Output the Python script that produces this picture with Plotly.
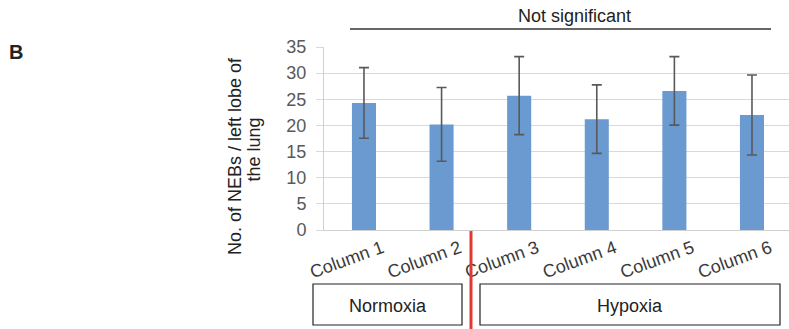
import plotly.graph_objects as go

categories = ["Column 1", "Column 2", "Column 3", "Column 4", "Column 5", "Column 6"]
values = [24.3, 20.2, 25.7, 21.2, 26.6, 22.0]
errors = [6.75, 7.05, 7.45, 6.55, 6.55, 7.65]
y_ticks = [0, 5, 10, 15, 20, 25, 30, 35]
group_labels = ["Normoxia", "Hypoxia"]
significance_label = "Not significant"
y_title_lines = ["No. of NEBs / left lobe of", "the lung"]
panel_label = "B"

W, H = 789, 329
L, R, T, B = 324, 0, 47, 99
PW, PH = W - L - R, H - T - B


def px(x):
    return (x - L) / PW


def py(y):
    return (H - B - y) / PH


FONT = "Liberation Sans, Arial, sans-serif"

fig = go.Figure()
fig.add_trace(go.Bar(
    x=list(range(len(categories))),
    y=values,
    width=0.31,
    marker=dict(color="#6A9ACF", line=dict(width=0)),
    error_y=dict(type="data", array=errors, visible=True,
                 color="#595959", thickness=1.6, width=5),
))

fig.update_layout(
    width=W, height=H,
    margin=dict(l=L, r=R, t=T, b=B),
    paper_bgcolor="white", plot_bgcolor="white",
    showlegend=False,
    font=dict(family=FONT, size=18, color="#333333"),
)

fig.update_xaxes(
    range=[-0.515, 5.477],
    tickmode="array",
    tickvals=list(range(len(categories))),
    ticktext=categories,
    tickangle=-20,
    tickfont=dict(size=18, color="#3A3A3A"),
    ticklabelshift=18,
    showgrid=False,
    showline=True, linecolor="#D0D0D0", linewidth=1,
    ticks="",
    zeroline=False,
)
fig.update_yaxes(
    range=[0, 35],
    tickmode="array",
    tickvals=y_ticks,
    tickfont=dict(size=18, color="#595959"),
    showgrid=True, gridcolor="#D9D9D9", gridwidth=1,
    showline=True, linecolor="#D0D0D0", linewidth=1,
    ticks="outside", ticklen=7, tickcolor="#D9D9D9",
    ticklabelstandoff=6,
    zeroline=False,
)

shapes = []
shapes.append(dict(type="line", xref="paper", yref="paper",
                   x0=px(350), x1=px(771), y0=py(29), y1=py(29),
                   line=dict(color="#333333", width=1.5)))
shapes.append(dict(type="line", xref="paper", yref="paper",
                   x0=px(471), x1=px(471), y0=py(231), y1=py(329),
                   line=dict(color="#E03A32", width=3)))
shapes.append(dict(type="rect", xref="paper", yref="paper",
                   x0=px(313), x1=px(462), y0=py(325), y1=py(284),
                   line=dict(color="#222222", width=1.2)))
shapes.append(dict(type="rect", xref="paper", yref="paper",
                   x0=px(480), x1=px(780), y0=py(325), y1=py(284),
                   line=dict(color="#222222", width=1.2)))
fig.update_layout(shapes=shapes)


def note(text, x, y, size=18, angle=0, color="#222222"):
    return dict(text=text, xref="paper", yref="paper", x=px(x), y=py(y),
                xanchor="center", yanchor="middle", showarrow=False,
                textangle=angle, font=dict(size=size, color=color))


ann = [
    note(significance_label, 574, 16),
    note(group_labels[0], 388, 306),
    note(group_labels[1], 630, 306),
    note(y_title_lines[0], 235, 156, angle=-90),
    note(y_title_lines[1], 253.5, 150, angle=-90),
    note("<b>" + panel_label + "</b>", 16, 52, size=20),
]
fig.update_layout(annotations=ann)

fig.write_html("out.html", config={"displayModeBar": False},
               post_script="document.body.style.margin='0';")
